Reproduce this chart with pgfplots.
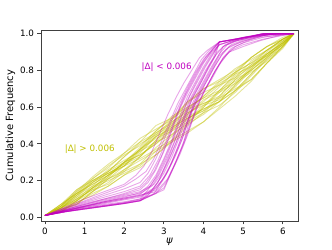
\documentclass[border=0pt]{standalone}
\usepackage{pgfplots}
\pgfplotsset{compat=1.18}
\usepackage{pgfplotstable}
\usepackage{fontspec}
\setmainfont{DejaVu Sans}
\definecolor{ycol}{rgb}{0.75,0.75,0}
\definecolor{mcol}{rgb}{0.75,0,0.75}
\definecolor{spine}{rgb}{0.25,0.25,0.25}
\pgfplotstableread{
x y1 y2 y3 y4 y5 y6 y7 y8 y9 y10 y11 y12 y13 y14 y15 y16 y17 y18 y19 y20 y21 y22 y23 y24
0 0.01 0.01 0.01 0.01 0.01 0.01 0.01 0.01 0.01 0.01 0.01 0.01 0.01 0.01 0.01 0.01 0.01 0.01 0.01 0.01 0.01 0.01 0.01 0.01
0.4 0.07 0.03 0.06 0.04 0.05 0.06 0.04 0.07 0.03 0.05 0.05 0.06 0.04 0.05 0.06 0.04 0.05 0.05 0.07 0.03 0.06 0.04 0.05 0.05
0.8 0.15 0.08 0.12 0.10 0.12 0.13 0.09 0.13 0.09 0.11 0.11 0.14 0.07 0.10 0.14 0.08 0.13 0.09 0.13 0.09 0.15 0.07 0.10 0.12
1.2 0.21 0.12 0.17 0.17 0.19 0.21 0.14 0.18 0.16 0.16 0.19 0.20 0.14 0.15 0.22 0.13 0.18 0.16 0.19 0.16 0.20 0.14 0.15 0.20
1.6 0.27 0.17 0.21 0.25 0.26 0.28 0.19 0.23 0.23 0.20 0.24 0.25 0.21 0.22 0.29 0.17 0.23 0.23 0.24 0.22 0.25 0.21 0.18 0.24
2.0 0.35 0.23 0.26 0.33 0.31 0.34 0.26 0.30 0.28 0.24 0.29 0.30 0.28 0.30 0.35 0.23 0.28 0.30 0.28 0.30 0.33 0.25 0.25 0.29
2.4 0.43 0.27 0.33 0.40 0.36 0.39 0.31 0.34 0.35 0.28 0.37 0.37 0.37 0.37 0.41 0.29 0.32 0.38 0.36 0.34 0.41 0.29 0.33 0.33
2.8 0.48 0.34 0.42 0.45 0.41 0.47 0.36 0.40 0.44 0.36 0.45 0.43 0.46 0.44 0.46 0.38 0.37 0.47 0.44 0.40 0.50 0.34 0.42 0.41
3.2 0.53 0.41 0.51 0.50 0.45 0.55 0.41 0.48 0.48 0.44 0.53 0.47 0.52 0.52 0.51 0.45 0.42 0.54 0.49 0.47 0.54 0.42 0.50 0.49
3.6 0.62 0.46 0.60 0.55 0.51 0.60 0.50 0.57 0.53 0.52 0.63 0.52 0.58 0.57 0.56 0.54 0.47 0.63 0.54 0.56 0.59 0.51 0.59 0.54
4.0 0.70 0.52 0.65 0.59 0.56 0.65 0.57 0.62 0.61 0.60 0.68 0.57 0.66 0.61 0.63 0.59 0.52 0.70 0.58 0.64 0.62 0.60 0.66 0.58
4.4 0.75 0.59 0.69 0.63 0.63 0.72 0.61 0.66 0.69 0.68 0.72 0.65 0.74 0.64 0.71 0.63 0.60 0.74 0.66 0.68 0.65 0.69 0.73 0.63
4.8 0.80 0.66 0.74 0.69 0.72 0.79 0.68 0.75 0.77 0.76 0.76 0.73 0.81 0.71 0.79 0.69 0.69 0.79 0.75 0.73 0.70 0.78 0.78 0.72
5.2 0.87 0.74 0.80 0.78 0.81 0.84 0.77 0.83 0.83 0.85 0.82 0.79 0.86 0.80 0.87 0.75 0.78 0.84 0.80 0.82 0.75 0.87 0.82 0.81
5.6 0.93 0.84 0.87 0.87 0.89 0.89 0.86 0.91 0.88 0.91 0.88 0.85 0.91 0.88 0.93 0.84 0.86 0.91 0.87 0.89 0.84 0.93 0.90 0.89
6.0 0.98 0.92 0.94 0.95 0.96 0.95 0.94 0.97 0.94 0.97 0.94 0.93 0.96 0.96 0.97 0.93 0.93 0.97 0.95 0.95 0.93 0.97 0.97 0.95
6.28 1.0 1.0 1.0 1.0 1.0 1.0 1.0 1.0 1.0 1.0 1.0 1.0 1.0 1.0 1.0 1.0 1.0 1.0 1.0 1.0 1.0 1.0 1.0 1.0
}\yel
\begin{document}
\begin{tikzpicture}
\begin{axis}[
  name=ax, scale only axis, width=257bp, height=191bp,
  xmin=-0.1, xmax=6.383, ymin=-0.02, ymax=1.02,
  xtick={0,1,2,3,4,5,6}, ytick={0,0.2,0.4,0.6,0.8,1.0},
  yticklabel style={/pgf/number format/.cd, fixed, fixed zerofill, precision=1},
  /pgf/number format/assume math mode=true,
  tick label style={font=\fontsize{8.8}{10}\selectfont, text=black},
  label style={font=\fontsize{10}{12}\selectfont},
  xlabel={\itshape ψ}, ylabel={Cumulative Frequency},
  xlabel style={yshift=3bp}, ylabel style={yshift=-2bp},
  tick align=outside, xtick pos=bottom, ytick pos=left,
  major tick length=3.5bp,
  axis line style={spine, line width=0.8bp},
  every tick/.style={spine, line width=0.8bp},
  clip=true,
  ycurve/.style={ycol, opacity=0.4, line width=0.9bp},
  mcurve/.style={mcol, opacity=0.35, line width=0.9bp},
]
\pgfplotsinvokeforeach{1,...,24}{
  \addplot[ycurve] table[x=x, y=y#1]{\yel};
}
\addplot[mcurve] coordinates {(0,0.01)(0.5,0.03)(1.0,0.045)(1.5,0.06)(2.0,0.075)(2.4,0.09)(2.7,0.12)(3.0,0.16)(3.2,0.25)(3.4,0.34)(3.6,0.45)(3.8,0.58)(4.0,0.68)(4.2,0.75)(4.4,0.83)(4.6,0.89)(4.8,0.93)(5.1,0.96)(5.5,0.99)(6.0,1.0)(6.28,1.0)};
\addplot[mcurve] coordinates {(0,0.01)(0.5,0.03)(1.0,0.045)(1.5,0.06)(2.0,0.075)(2.4,0.09)(2.7,0.14)(2.95,0.20)(3.15,0.28)(3.35,0.38)(3.55,0.50)(3.75,0.62)(3.95,0.71)(4.15,0.79)(4.35,0.87)(4.5,0.93)(4.7,0.955)(5.0,0.97)(5.5,0.995)(6.28,1.0)};
\addplot[mcurve] coordinates {(0,0.01)(0.5,0.03)(1.0,0.047)(1.5,0.062)(2.0,0.077)(2.4,0.092)(2.8,0.13)(3.0,0.15)(3.3,0.30)(3.5,0.41)(3.7,0.57)(3.9,0.66)(4.1,0.72)(4.3,0.80)(4.5,0.87)(4.7,0.91)(5.0,0.94)(5.5,0.97)(6.0,0.99)(6.28,1.0)};
\addplot[mcurve] coordinates {(0,0.01)(0.5,0.031)(1.0,0.046)(1.5,0.061)(2.0,0.076)(2.4,0.09)(2.6,0.12)(2.85,0.19)(3.05,0.29)(3.25,0.40)(3.45,0.52)(3.65,0.64)(3.85,0.72)(4.05,0.80)(4.25,0.87)(4.4,0.955)(4.8,0.97)(5.2,0.985)(5.5,1.0)(6.28,1.0)};
\addplot[mcurve] coordinates {(0,0.01)(0.5,0.05)(1.0,0.09)(1.5,0.13)(2.0,0.17)(2.3,0.21)(2.55,0.25)(2.75,0.32)(2.95,0.42)(3.15,0.52)(3.35,0.62)(3.55,0.70)(3.75,0.78)(3.95,0.86)(4.15,0.91)(4.4,0.955)(4.8,0.97)(5.2,0.985)(5.5,1.0)(6.28,1.0)};
\addplot[mcurve] coordinates {(0,0.01)(0.5,0.045)(1.0,0.08)(1.5,0.11)(2.0,0.14)(2.4,0.17)(2.65,0.23)(2.85,0.31)(3.05,0.41)(3.25,0.52)(3.45,0.63)(3.65,0.72)(3.85,0.80)(4.05,0.87)(4.25,0.92)(4.4,0.955)(4.9,0.975)(5.5,1.0)(6.28,1.0)};
\addplot[mcurve] coordinates {(0,0.01)(0.5,0.035)(1.0,0.06)(1.5,0.085)(2.0,0.11)(2.4,0.135)(2.6,0.17)(2.8,0.23)(3.0,0.32)(3.2,0.42)(3.4,0.55)(3.6,0.66)(3.8,0.74)(4.0,0.82)(4.2,0.89)(4.4,0.94)(4.7,0.96)(5.0,0.98)(5.6,1.0)(6.28,1.0)};
\addplot[mcurve] coordinates {(0,0.01)(0.5,0.04)(1.0,0.07)(1.5,0.095)(2.0,0.12)(2.4,0.14)(2.75,0.18)(2.95,0.24)(3.15,0.33)(3.35,0.43)(3.55,0.56)(3.75,0.66)(3.95,0.74)(4.15,0.83)(4.35,0.90)(4.55,0.94)(4.9,0.97)(5.3,0.99)(5.9,1.0)(6.28,1.0)};
\addplot[mcurve] coordinates {(0,0.01)(0.5,0.032)(1.0,0.055)(1.5,0.075)(2.0,0.095)(2.4,0.11)(2.8,0.16)(3.05,0.23)(3.25,0.32)(3.45,0.42)(3.65,0.55)(3.85,0.65)(4.05,0.73)(4.25,0.81)(4.45,0.88)(4.65,0.93)(5.0,0.96)(5.4,0.98)(6.0,0.995)(6.28,1.0)};
\addplot[mcurve] coordinates {(0,0.01)(0.5,0.04)(1.0,0.075)(1.5,0.10)(2.0,0.13)(2.4,0.16)(2.55,0.19)(2.75,0.25)(2.95,0.34)(3.15,0.45)(3.35,0.57)(3.55,0.67)(3.75,0.75)(3.95,0.83)(4.15,0.89)(4.4,0.955)(4.9,0.97)(5.5,0.995)(6.28,1.0)};
\addplot[mcurve] coordinates {(0,0.01)(0.5,0.038)(1.0,0.065)(1.5,0.09)(2.0,0.115)(2.4,0.13)(2.7,0.17)(2.9,0.24)(3.1,0.33)(3.3,0.43)(3.5,0.54)(3.7,0.65)(3.9,0.73)(4.1,0.81)(4.3,0.88)(4.5,0.93)(4.8,0.96)(5.2,0.98)(5.8,1.0)(6.28,1.0)};
\addplot[mcurve] coordinates {(0,0.01)(0.5,0.035)(1.0,0.055)(1.5,0.07)(2.0,0.085)(2.4,0.10)(2.8,0.13)(3.05,0.19)(3.25,0.28)(3.45,0.38)(3.65,0.50)(3.85,0.62)(4.05,0.70)(4.25,0.78)(4.45,0.85)(4.65,0.90)(5.0,0.93)(5.4,0.96)(5.9,0.99)(6.28,1.0)};
\addplot[mcurve] coordinates {(0,0.01)(0.5,0.05)(1.0,0.085)(1.5,0.12)(2.0,0.155)(2.4,0.19)(2.6,0.24)(2.8,0.32)(3.0,0.42)(3.2,0.53)(3.4,0.62)(3.6,0.71)(3.8,0.79)(4.0,0.86)(4.2,0.91)(4.4,0.955)(4.8,0.97)(5.2,0.985)(5.5,1.0)(6.28,1.0)};
\addplot[mcurve] coordinates {(0,0.01)(0.5,0.036)(1.0,0.06)(1.5,0.08)(2.0,0.10)(2.4,0.12)(2.8,0.15)(3.1,0.25)(3.3,0.34)(3.5,0.45)(3.7,0.58)(3.9,0.67)(4.1,0.75)(4.3,0.83)(4.5,0.90)(4.7,0.94)(5.0,0.965)(5.5,0.99)(6.0,1.0)(6.28,1.0)};
\addplot[mcurve] coordinates {(0,0.01)(0.5,0.03)(1.0,0.05)(1.5,0.065)(2.0,0.08)(2.4,0.095)(2.7,0.15)(2.9,0.21)(3.1,0.30)(3.3,0.40)(3.5,0.52)(3.7,0.64)(3.9,0.72)(4.1,0.80)(4.3,0.88)(4.4,0.955)(4.8,0.97)(5.2,0.985)(5.5,1.0)(6.28,1.0)};
\addplot[mcurve] coordinates {(0,0.01)(0.5,0.042)(1.0,0.07)(1.5,0.10)(2.0,0.125)(2.4,0.15)(2.6,0.19)(2.8,0.26)(3.0,0.36)(3.2,0.47)(3.4,0.59)(3.6,0.68)(3.8,0.76)(4.0,0.84)(4.2,0.90)(4.4,0.94)(4.7,0.96)(5.1,0.98)(5.7,1.0)(6.28,1.0)};
\addplot[mcurve] coordinates {(0,0.01)(0.5,0.035)(1.0,0.06)(1.5,0.085)(2.0,0.105)(2.4,0.12)(2.8,0.14)(3.1,0.21)(3.3,0.30)(3.5,0.40)(3.7,0.52)(3.9,0.63)(4.1,0.72)(4.3,0.80)(4.5,0.87)(4.7,0.92)(5.0,0.95)(5.5,0.98)(6.0,0.995)(6.28,1.0)};
\addplot[mcurve] coordinates {(0,0.01)(0.5,0.038)(1.0,0.062)(1.5,0.085)(2.0,0.105)(2.4,0.125)(2.65,0.17)(2.85,0.23)(3.05,0.32)(3.25,0.43)(3.45,0.55)(3.65,0.66)(3.85,0.74)(4.05,0.82)(4.25,0.89)(4.4,0.955)(4.9,0.975)(5.5,0.995)(6.28,1.0)};
\addplot[mcurve] coordinates {(0,0.01)(0.5,0.03)(1.0,0.045)(1.5,0.06)(2.0,0.075)(2.4,0.09)(2.75,0.13)(3.0,0.21)(3.2,0.30)(3.4,0.41)(3.6,0.53)(3.8,0.64)(4.0,0.72)(4.2,0.80)(4.4,0.88)(4.6,0.92)(4.9,0.95)(5.3,0.98)(5.8,1.0)(6.28,1.0)};
\addplot[mcurve] coordinates {(0,0.01)(0.5,0.055)(1.0,0.10)(1.5,0.14)(2.0,0.18)(2.3,0.23)(2.5,0.28)(2.7,0.36)(2.9,0.46)(3.1,0.56)(3.3,0.65)(3.5,0.73)(3.7,0.80)(3.9,0.87)(4.1,0.91)(4.4,0.955)(4.8,0.97)(5.3,0.99)(5.6,1.0)(6.28,1.0)};
\addplot[mcurve] coordinates {(0,0.01)(0.5,0.034)(1.0,0.058)(1.5,0.08)(2.0,0.10)(2.4,0.115)(2.75,0.16)(3.0,0.24)(3.2,0.33)(3.4,0.44)(3.6,0.56)(3.8,0.66)(4.0,0.74)(4.2,0.82)(4.4,0.89)(4.6,0.94)(4.9,0.965)(5.3,0.985)(5.9,1.0)(6.28,1.0)};
\addplot[mcurve] coordinates {(0,0.01)(0.5,0.03)(1.0,0.05)(1.5,0.065)(2.0,0.08)(2.4,0.10)(2.6,0.15)(2.8,0.22)(3.0,0.31)(3.2,0.41)(3.4,0.53)(3.6,0.64)(3.8,0.73)(4.0,0.81)(4.2,0.88)(4.4,0.94)(4.7,0.96)(5.0,0.98)(5.5,1.0)(6.28,1.0)};
\node[text=mcol, font=\fontsize{8.8}{10}\selectfont] at (axis cs:3.07,0.816) {|Δ| < 0.006};
\node[text=ycol, font=\fontsize{8.8}{10}\selectfont] at (axis cs:1.13,0.373) {|Δ| > 0.006};
\end{axis}
\path ([shift={(-41bp,-28bp)}]ax.south west) rectangle ([shift={(34bp,30bp)}]ax.north east);
\end{tikzpicture}
\end{document}
